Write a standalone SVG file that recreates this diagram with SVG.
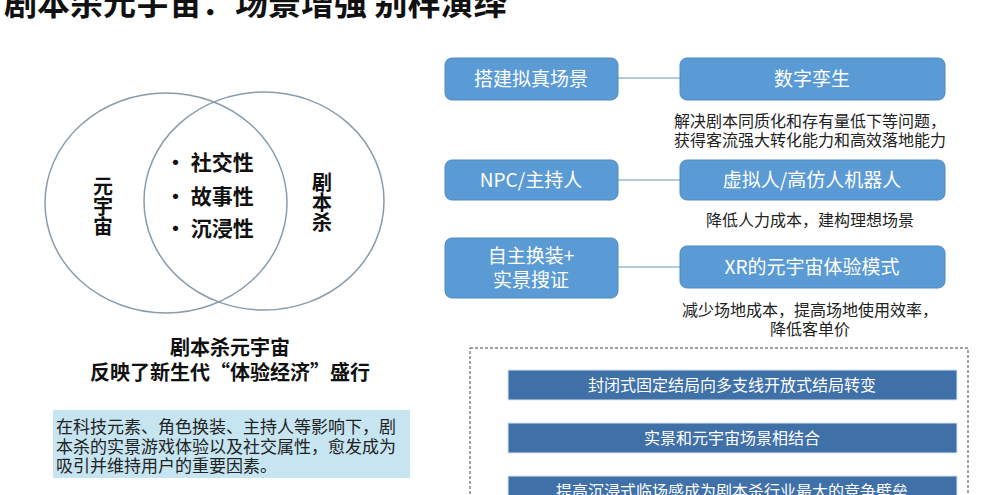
<svg xmlns="http://www.w3.org/2000/svg" width="988" height="495" viewBox="0 0 988 495">
<style>
text{font-family:"Noto Sans CJK SC","Liberation Sans",sans-serif}
.title{font-size:33px;font-weight:bold;fill:#111}
.venn{fill:none;stroke:#8a9bab;stroke-width:1.5}
.vlab{font-size:20px;font-weight:bold;fill:#111;writing-mode:vertical-rl;text-anchor:middle}
.bul{font-size:21px;font-weight:bold;fill:#111}
.cap{font-size:20px;font-weight:bold;fill:#111;text-anchor:middle}
.note{font-size:17px;fill:#222}
.box{fill:#5b9bd5;stroke:#4f89c0;stroke-width:1}
.btxt{font-size:19px;fill:#fff;text-anchor:middle}
.desc{font-size:16px;fill:#222;text-anchor:middle}
.bar{fill:#3f70a8;stroke:#dbe6f2;stroke-width:1}
.bartxt{font-size:16px;fill:#fff;text-anchor:middle}
.conn{stroke:#b5c9dc;stroke-width:2}
</style>
<rect width="988" height="495" fill="#fff"/>
<text class="title" x="4" y="15">剧本杀元宇宙：场景增强 别样演绎</text>

<g id="venn">
<ellipse class="venn" cx="166" cy="203" rx="121" ry="110"/>
<ellipse class="venn" cx="264" cy="201" rx="120" ry="109"/>
<text class="vlab" x="103" y="206">元宇宙</text>
<text class="vlab" x="322" y="202">剧本杀</text>
<text class="bul" x="165" y="170">• 社交性</text>
<text class="bul" x="165" y="204">• 故事性</text>
<text class="bul" x="165" y="236">• 沉浸性</text>
</g>

<g id="caption">
<text class="cap" x="230" y="355"><tspan x="230">剧本杀元宇宙</tspan><tspan x="230" dy="25">反映了新生代“体验经济”盛行</tspan></text>
</g>

<g id="note">
<rect x="53" y="410" width="357" height="68" fill="#c6e5f0"/>
<text class="note" x="56" y="433"><tspan x="56">在科技元素、角色换装、主持人等影响下，剧</tspan><tspan x="56" dy="20">本杀的实景游戏体验以及社交属性，愈发成为</tspan><tspan x="56" dy="19">吸引并维持用户的重要因素。</tspan></text>
</g>

<g id="connectors">
<line class="conn" x1="618" y1="78" x2="680" y2="78"/>
<line class="conn" x1="618" y1="180" x2="680" y2="180"/>
<line class="conn" x1="618" y1="267" x2="680" y2="267"/>
</g>

<g id="n1">
<rect class="box" x="445" y="58" width="173" height="42" rx="7"/>
<text class="btxt" x="531" y="86">搭建拟真场景</text>
</g>
<g id="n2">
<rect class="box" x="680" y="58" width="265" height="42" rx="7"/>
<text class="btxt" x="812" y="86">数字孪生</text>
</g>
<g id="d2">
<text class="desc" x="810" y="127"><tspan x="810">解决剧本同质化和存有量低下等问题，</tspan><tspan x="810" dy="19">获得客流强大转化能力和高效落地能力</tspan></text>
</g>
<g id="n3">
<rect class="box" x="445" y="160" width="173" height="40" rx="7"/>
<text class="btxt" x="531" y="187">NPC/主持人</text>
</g>
<g id="n4">
<rect class="box" x="680" y="160" width="265" height="40" rx="7"/>
<text class="btxt" x="812" y="187">虚拟人/高仿人机器人</text>
</g>
<g id="d4">
<text class="desc" x="810" y="226">降低人力成本，建构理想场景</text>
</g>
<g id="n5">
<rect class="box" x="445" y="238" width="173" height="60" rx="7"/>
<text class="btxt" x="531" y="263"><tspan x="531">自主换装+</tspan><tspan x="531" dy="24">实景搜证</tspan></text>
</g>
<g id="n6">
<rect class="box" x="680" y="246" width="265" height="42" rx="7"/>
<text class="btxt" x="812" y="274">XR的元宇宙体验模式</text>
</g>
<g id="d6">
<text class="desc" x="810" y="316"><tspan x="810">减少场地成本，提高场地使用效率，</tspan><tspan x="810" dy="19">降低客单价</tspan></text>
</g>

<g id="trends">
<rect x="470" y="348" width="498" height="160" fill="none" stroke="#444" stroke-width="1" stroke-dasharray="3,2"/>
<rect class="bar" x="508" y="370" width="449" height="30"/>
<text class="bartxt" x="732" y="391">封闭式固定结局向多支线开放式结局转变</text>
<rect class="bar" x="508" y="423" width="449" height="30"/>
<text class="bartxt" x="732" y="444">实景和元宇宙场景相结合</text>
<rect class="bar" x="508" y="476" width="449" height="30"/>
<text class="bartxt" x="732" y="497">提高沉浸式临场感成为剧本杀行业最大的竞争壁垒</text>
</g>
</svg>
